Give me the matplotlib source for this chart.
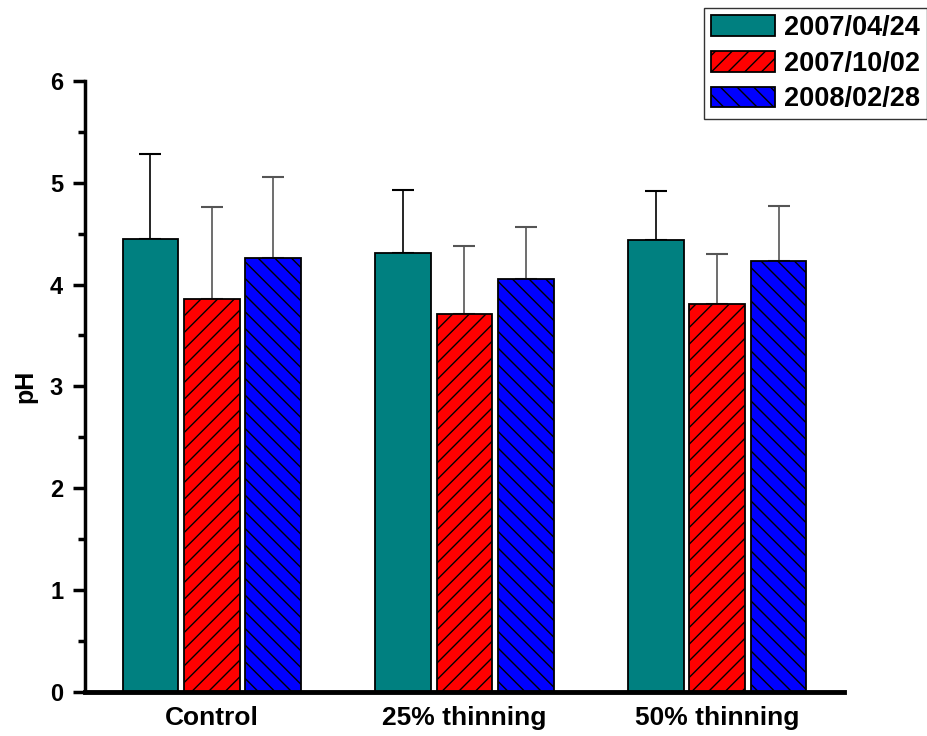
import numpy as np
import matplotlib.pyplot as plt

plt.rcParams['font.family'] = ['Liberation Sans', 'DejaVu Sans']
plt.rcParams['font.weight'] = 'bold'
plt.rcParams['hatch.linewidth'] = 1.0

# pH per treatment and sampling date
treatments = ['Control', '25% thinning', '50% thinning']
dates = ['2007/04/24', '2007/10/02', '2008/02/28']
ph_0424 = [4.45, 4.31, 4.44]
ph_1002 = [3.86, 3.71, 3.81]
ph_0228 = [4.26, 4.05, 4.23]
sd_0424 = [0.83, 0.62, 0.48]
sd_1002 = [0.90, 0.67, 0.49]
sd_0228 = [0.80, 0.52, 0.54]

colors = ['#008080', '#ff0000', '#0000ff']
hatches = ['', '//', '\\\\']
err_colors = ['black', '#555555', '#555555']

fig = plt.figure(figsize=(9.28, 7.36), dpi=100)
ax = fig.add_axes([0.092, 0.06, 0.817, 0.83])

x = np.arange(1, len(treatments) + 1)
width = 0.22
step = 0.243
series = [(ph_0424, sd_0424), (ph_1002, sd_1002), (ph_0228, sd_0228)]
handles = []
for i, (vals, sds) in enumerate(series):
    pos = x + (i - 1) * step
    b = ax.bar(pos, vals, width, color=colors[i], edgecolor='black',
               linewidth=1.3, hatch=hatches[i], label=dates[i], zorder=2)
    handles.append(b)
    ax.errorbar(pos, vals, yerr=[np.zeros(len(vals)), sds], fmt='none',
                ecolor=err_colors[i], elinewidth=1.2, capsize=8,
                capthick=1.5, zorder=1)

ax.set_xlim(0.5, 3.5)
ax.set_ylim(0, 6)
ax.set_yticks(range(0, 7))
ax.set_yticks(np.arange(0.5, 6, 1), minor=True)
ax.set_xticks(x)
ax.set_xticklabels(treatments, fontsize=19, fontweight='bold')
ax.tick_params(axis='x', length=0, pad=10)
ax.tick_params(axis='y', which='major', length=9, width=2.5, labelsize=17,
               pad=7)
ax.tick_params(axis='y', which='minor', length=5, width=2.5)
for lbl in ax.get_yticklabels():
    lbl.set_fontweight('bold')
ax.set_ylabel('pH', fontsize=18, fontweight='bold', labelpad=9)

ax.spines['top'].set_visible(False)
ax.spines['right'].set_visible(False)
ax.spines['left'].set_linewidth(2.5)
ax.spines['bottom'].set_linewidth(3.5)

leg = fig.legend(handles=handles, loc='upper right',
                 bbox_to_anchor=(0.999, 0.989),
                 prop={'weight': 'bold', 'size': 19.5},
                 handlelength=2.35, handleheight=0.8, handletextpad=0.35,
                 labelspacing=0.36, borderpad=0.25, borderaxespad=0,
                 fancybox=False, edgecolor='#333333', framealpha=1)
leg.get_frame().set_linewidth(1.0)

fig.savefig('out.png', dpi=100)
